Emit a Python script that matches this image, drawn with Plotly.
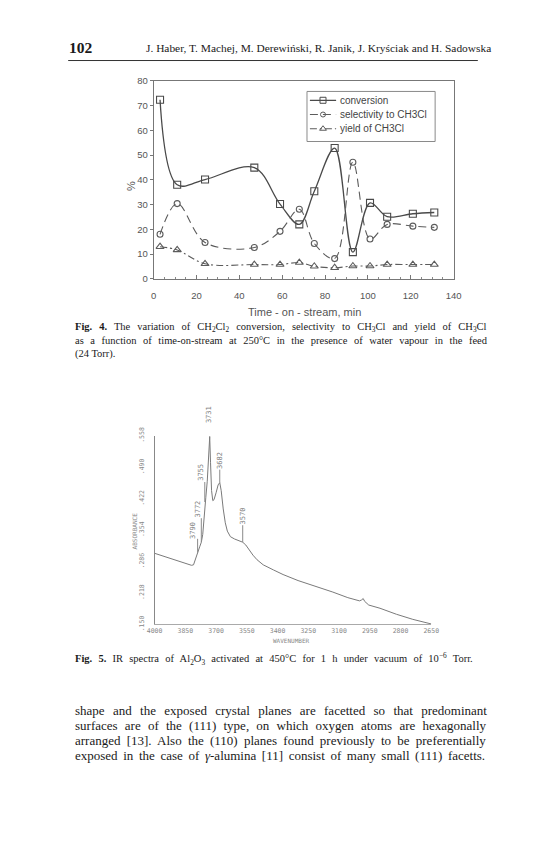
import plotly.graph_objects as go
import numpy as np

W, H = 547, 867

# ---------------- Fig. 4 data ----------------
time_min = [3, 11, 24, 47, 59, 68, 75, 84.5, 93, 101, 109, 121, 131]
conversion = [72.3, 38.0, 40.1, 44.9, 30.2, 22.0, 35.4, 52.8, 10.8, 30.7, 25.1, 26.3, 26.8]
selectivity = [18.0, 30.4, 14.7, 12.7, 19.2, 28.1, 14.3, 8.2, 47.1, 16.1, 22.0, 21.3, 20.8]
yield_ch3cl = [13.0, 11.7, 6.1, 5.8, 5.8, 6.6, 5.1, 4.5, 5.2, 5.2, 5.8, 5.8, 5.8]
series_names = ['conversion', 'selectivity to CH3Cl', 'yield of CH3Cl']
fig4_xticks = [0, 20, 40, 60, 80, 100, 120, 140]
fig4_yticks = [0, 10, 20, 30, 40, 50, 60, 70, 80]

# ---------------- Fig. 5 data ----------------
wavenumber = [4000, 3950, 3900, 3850, 3820, 3810, 3800, 3790, 3780, 3772, 3765, 3760,
              3755, 3750, 3743, 3736, 3731, 3727, 3722, 3716, 3710, 3700, 3690, 3682,
              3675, 3665, 3655, 3645, 3630, 3610, 3590, 3570, 3555, 3540, 3520, 3500,
              3470, 3420, 3373, 3300, 3215, 3130, 3057, 3000, 2990, 2982, 2975, 2965,
              2955, 2900, 2820, 2740, 2650]
absorbance = [0.304, 0.297, 0.290, 0.283, 0.278, 0.279, 0.290, 0.305, 0.318, 0.328, 0.345, 0.375,
              0.415, 0.425, 0.460, 0.520, 0.556, 0.500, 0.440, 0.418, 0.420, 0.435, 0.452, 0.457,
              0.440, 0.400, 0.370, 0.352, 0.340, 0.335, 0.332, 0.328, 0.322, 0.312, 0.300, 0.290,
              0.279, 0.268, 0.258, 0.245, 0.233, 0.220, 0.208, 0.201, 0.203, 0.206, 0.200, 0.195,
              0.192, 0.185, 0.172, 0.161, 0.151]
peak_wn = [3790, 3772, 3755, 3731, 3682, 3570]
peak_labels = ["3790", "3772", "3755", "3731", "3682", "3570"]
fig5_xticks = [4000, 3850, 3700, 3550, 3400, 3250, 3100, 2950, 2800, 2650]
fig5_yticks = [0.150, 0.218, 0.286, 0.354, 0.422, 0.490, 0.558]
fig5_yticktext = [".150", ".218", ".286", ".354", ".422", ".490", ".558"]

# label placement styles (xshift px, marker line length px, text yshift px)
peak_style = [(-4, 14, 13), (-3.5, 24, 24), (-4.5, 20, 20), (0, 13, 13), (0, 13, 13), (0, 17, 17)]


def px(x):
    return x / W


def py(y):
    return 1 - y / H


# ---------- simple Times metrics for justified text ----------
TIMES = {' ': 250, '!': 333, '%': 833, '(': 333, ')': 333, ',': 250, '-': 333, '.': 250,
         '/': 278, ':': 278, ';': 278, '[': 333, ']': 333, '°': 400, 'γ': 430, '−': 564,
         'A': 722, 'B': 667, 'C': 667, 'D': 722, 'E': 611, 'F': 556, 'G': 722, 'H': 722,
         'I': 333, 'J': 389, 'K': 722, 'L': 611, 'M': 889, 'N': 722, 'O': 722, 'P': 556,
         'Q': 722, 'R': 667, 'S': 556, 'T': 611, 'U': 722, 'V': 722, 'W': 944, 'X': 722,
         'Y': 722, 'Z': 611, 'a': 444, 'b': 500, 'c': 444, 'd': 500, 'e': 444, 'f': 333,
         'g': 500, 'h': 500, 'i': 278, 'j': 278, 'k': 500, 'l': 278, 'm': 778, 'n': 500,
         'o': 500, 'p': 500, 'q': 500, 'r': 333, 's': 389, 't': 278, 'u': 500, 'v': 500,
         'w': 722, 'x': 500, 'y': 500, 'z': 444, 'ń': 500, 'ś': 389}


def seg_width(segs, size):
    w = 0.0
    for txt, kind in segs:
        scale = 0.7 if kind in ('sub', 'sup') else 1.0
        for ch in txt:
            cw = 500 if ch.isdigit() else TIMES.get(ch, 500)
            if kind == 'b':
                cw *= 1.03
            w += cw * scale
    return w * size / 1000.0


def seg_html(segs):
    out = ''
    for txt, kind in segs:
        if kind == 'b':
            out += '<b>' + txt + '</b>'
        elif kind == 'sub':
            out += '<sub>' + txt + '</sub>'
        elif kind == 'sup':
            out += '<sup>' + txt + '</sup>'
        elif kind == 'i':
            out += '<i>' + txt + '</i>'
        else:
            out += txt
    return out


def justified(segs, size, target):
    nat = seg_width(segs, size)
    nsp = sum(t.count(' ') for t, k in segs)
    ws = max(0.0, (target - nat) / max(nsp, 1))
    return '<span style="word-spacing:%.2fpx">' % ws + seg_html(segs) + '</span>'


fig = go.Figure()

# ---------------- Fig. 4 traces ----------------
gray1 = '#4a4a4a'
gray2 = '#5c5c5c'
styles = [
    dict(color=gray1, width=1.3, dash='solid', symbol='square-open', size=7),
    dict(color=gray2, width=1.1, dash='8px,5px', symbol='circle-open', size=6),
    dict(color=gray2, width=1.1, dash='7px,3px,2px,3px', symbol='triangle-up-open', size=7),
]
for yv, nm, st in zip([conversion, selectivity, yield_ch3cl], series_names, styles):
    fig.add_trace(go.Scatter(x=time_min, y=yv, name=nm, mode='lines+markers', showlegend=False,
                             line=dict(color=st['color'], width=st['width'], dash=st['dash'],
                                       shape='spline', smoothing=1.0),
                             marker=dict(symbol=st['symbol'], size=st['size'], color=st['color'],
                                         line=dict(width=1.1)),
                             xaxis='x', yaxis='y'))

# custom legend (drawn on a hidden pixel-scaled axis pair over the legend box)
leg_rows = [9, 23.5, 38]
for nm, st, ry in zip(series_names, styles, leg_rows):
    fig.add_trace(go.Scatter(x=[3, 30], y=[ry, ry], mode='lines', showlegend=False, hoverinfo='skip',
                             line=dict(color=st['color'], width=st['width'], dash=st['dash']),
                             xaxis='x3', yaxis='y3'))
    fig.add_trace(go.Scatter(x=[16.5], y=[ry], mode='markers', showlegend=False, hoverinfo='skip',
                             marker=dict(symbol=st['symbol'], size=st['size'] - 1, color=st['color'],
                                         line=dict(width=1)),
                             xaxis='x3', yaxis='y3'))

# ---------------- Fig. 5 trace ----------------
fig.add_trace(go.Scatter(x=wavenumber, y=absorbance, mode='lines', showlegend=False,
                         line=dict(color='#7a7a7a', width=1), xaxis='x2', yaxis='y2',
                         hoverinfo='skip'))

annotations = []
shapes = []

# page geometry (px)
TOP4, BOT4 = 73, 275          # Fig. 4 plot area
LEFT4, RIGHT4 = 150, 459
LEG = (308, 440, 84, 135)     # legend box x0, x1, y0, y1

shapes.append(dict(type='rect', xref='paper', yref='paper', x0=px(LEG[0]), x1=px(LEG[1]),
                   y0=py(LEG[3]), y1=py(LEG[2]),
                   line=dict(color='#8a8a8a', width=1), fillcolor='rgba(255,255,255,0)', layer='above'))
for nm, ry in zip(series_names, leg_rows):
    annotations.append(dict(x=32, y=ry, xref='x3', yref='y3', text=nm, showarrow=False,
                            xanchor='left', yanchor='middle',
                            font=dict(family='Liberation Sans', size=10, color='#444')))

peak_abs = np.interp(peak_wn[::-1], wavenumber[::-1], absorbance[::-1])[::-1]
for wn, lab, a, (xs, ln, ys) in zip(peak_wn, peak_labels, peak_abs, peak_style):
    shapes.append(dict(type='line', xref='x2', yref='y2', ysizemode='pixel', yanchor=float(a),
                       x0=wn, x1=wn, y0=0, y1=ln, line=dict(color='#8a8a8a', width=1)))
    annotations.append(dict(x=wn, y=float(a), xref='x2', yref='y2', text=lab, showarrow=False,
                            textangle=-90, xanchor='center', yanchor='bottom', xshift=xs, yshift=ys,
                            font=dict(family='DejaVu Sans Mono', size=7, color='#808080'),
                            borderpad=0))


def txt_ann(x, y, text, font, xanchor='center', angle=0):
    return dict(x=px(x), y=py(y), xref='paper', yref='paper', text=text, textangle=angle,
                xanchor=xanchor, yanchor='middle', showarrow=False, font=font)


# axis titles
annotations.append(txt_ann(126, 180, '%', dict(family='Liberation Sans', size=11, color='#555'), angle=-90))
annotations.append(txt_ann(305, 309, 'Time - on - stream, min', dict(family='Liberation Sans', size=11, color='#555')))
annotations.append(txt_ann(130, 532, 'ABSORBANCE', dict(family='DejaVu Sans Mono', size=6, color='#888'), angle=-90))
annotations.append(txt_ann(292, 643, 'WAVENUMBER', dict(family='DejaVu Sans Mono', size=6, color='#888')))

serif = 'Liberation Serif'
ink = '#1a1a1a'
# header
annotations.append(txt_ann(61, 39, '<b>102</b>', dict(family=serif, size=15.5, color=ink), xanchor='left'))
annotations.append(txt_ann(140, 40, 'J. Haber, T. Machej, M. Derewiński, R. Janik, J. Kryściak and H. Sadowska',
                           dict(family=serif, size=11.4, color=ink), xanchor='left'))
shapes.append(dict(type='line', xref='paper', yref='paper', x0=px(62), x1=px(484), y0=py(52.5), y1=py(52.5),
                   line=dict(color='#333', width=1)))

# captions
L0 = 67
TW = 412
cap4 = [
    [('Fig. 4.', 'b'), (' The variation of CH', 'r'), ('2', 'sub'), ('Cl', 'r'), ('2', 'sub'),
     (' conversion, selectivity to CH', 'r'), ('3', 'sub'), ('Cl and yield of CH', 'r'), ('3', 'sub'), ('Cl', 'r')],
    [('as a function of time-on-stream at 250°C in the presence of water vapour in the feed', 'r')],
    [('(24 Torr).', 'r')],
]
cap4_y = [324, 337.5, 351]
cs = 10.5
for i, (segs, yy) in enumerate(zip(cap4, cap4_y)):
    txt = justified(segs, cs, TW) if i < 2 else seg_html(segs)
    annotations.append(txt_ann(L0, yy, txt, dict(family=serif, size=cs, color=ink), xanchor='left'))

cap5 = [('Fig. 5.', 'b'), (' IR spectra of Al', 'r'), ('2', 'sub'), ('O', 'r'), ('3', 'sub'),
        (' activated at 450°C for 1 h under vacuum of 10', 'r'), ('−6', 'sup'), (' Torr.', 'r')]
annotations.append(txt_ann(L0, 662.5, justified(cap5, cs, 400), dict(family=serif, size=cs, color=ink),
                           xanchor='left'))

body = [
    [('shape and the exposed crystal planes are facetted so that predominant', 'r')],
    [('surfaces are of the (111) type, on which oxygen atoms are hexagonally', 'r')],
    [('arranged [13]. Also the (110) planes found previously to be preferentially', 'r')],
    [('exposed in the case of ', 'r'), ('γ', 'i'), ('-alumina [11] consist of many small (111) facetts.', 'r')],
]
body_y = [714.5, 730, 745.5, 761]
bs = 13
for segs, yy in zip(body, body_y):
    annotations.append(txt_ann(L0, yy, justified(segs, bs, TW), dict(family=serif, size=bs, color=ink),
                               xanchor='left'))

axis_font4 = dict(family='Liberation Sans', size=9.5, color='#555')
axis_font5 = dict(family='DejaVu Sans Mono', size=6.5, color='#888')

fig.update_layout(
    width=W, height=H, margin=dict(l=0, r=0, t=0, b=0),
    paper_bgcolor='white', plot_bgcolor='white',
    showlegend=False,
    xaxis=dict(domain=[px(LEFT4), px(RIGHT4)], range=[0, 140], tickvals=fig4_xticks, showgrid=False,
               zeroline=False, showline=True, mirror=True, linecolor='#777', linewidth=1, ticks='inside',
               ticklen=4, tickcolor='#777', minor=dict(dtick=5, ticks='inside', ticklen=2, tickcolor='#888'),
               tickfont=axis_font4, ticklabelstandoff=8, anchor='y'),
    yaxis=dict(domain=[py(BOT4), py(TOP4)], range=[0, 80], tickvals=fig4_yticks, showgrid=False, zeroline=False,
               showline=True, mirror=True, linecolor='#777', linewidth=1, ticks='outside', ticklen=3,
               tickcolor='#777', tickfont=axis_font4, anchor='x'),
    xaxis2=dict(domain=[px(151), px(436)], range=[4000, 2650], tickvals=fig5_xticks, showgrid=False,
                zeroline=False, showline=True, linecolor='#aaa', linewidth=1, ticks='',
                tickfont=axis_font5, ticklabelstandoff=0, anchor='y2'),
    yaxis2=dict(domain=[py(627), py(435)], range=[0.150, 0.558], tickvals=fig5_yticks, ticktext=fig5_yticktext,
                showgrid=False, zeroline=False, showline=True, linecolor='#888', linewidth=1, ticks='',
                tickangle=-90, tickfont=axis_font5, ticklabelstandoff=7, anchor='x2'),
    xaxis3=dict(domain=[px(LEG[0]), px(LEG[1])], range=[0, LEG[1] - LEG[0]], visible=False, fixedrange=True,
                anchor='y3'),
    yaxis3=dict(domain=[py(LEG[3]), py(LEG[2])], range=[LEG[3] - LEG[2], 0], visible=False, fixedrange=True,
                anchor='x3'),
    annotations=annotations,
    shapes=shapes,
)

fig.write_html('out.html', config={'displayModeBar': False},
               post_script="document.body.style.margin='0';")
